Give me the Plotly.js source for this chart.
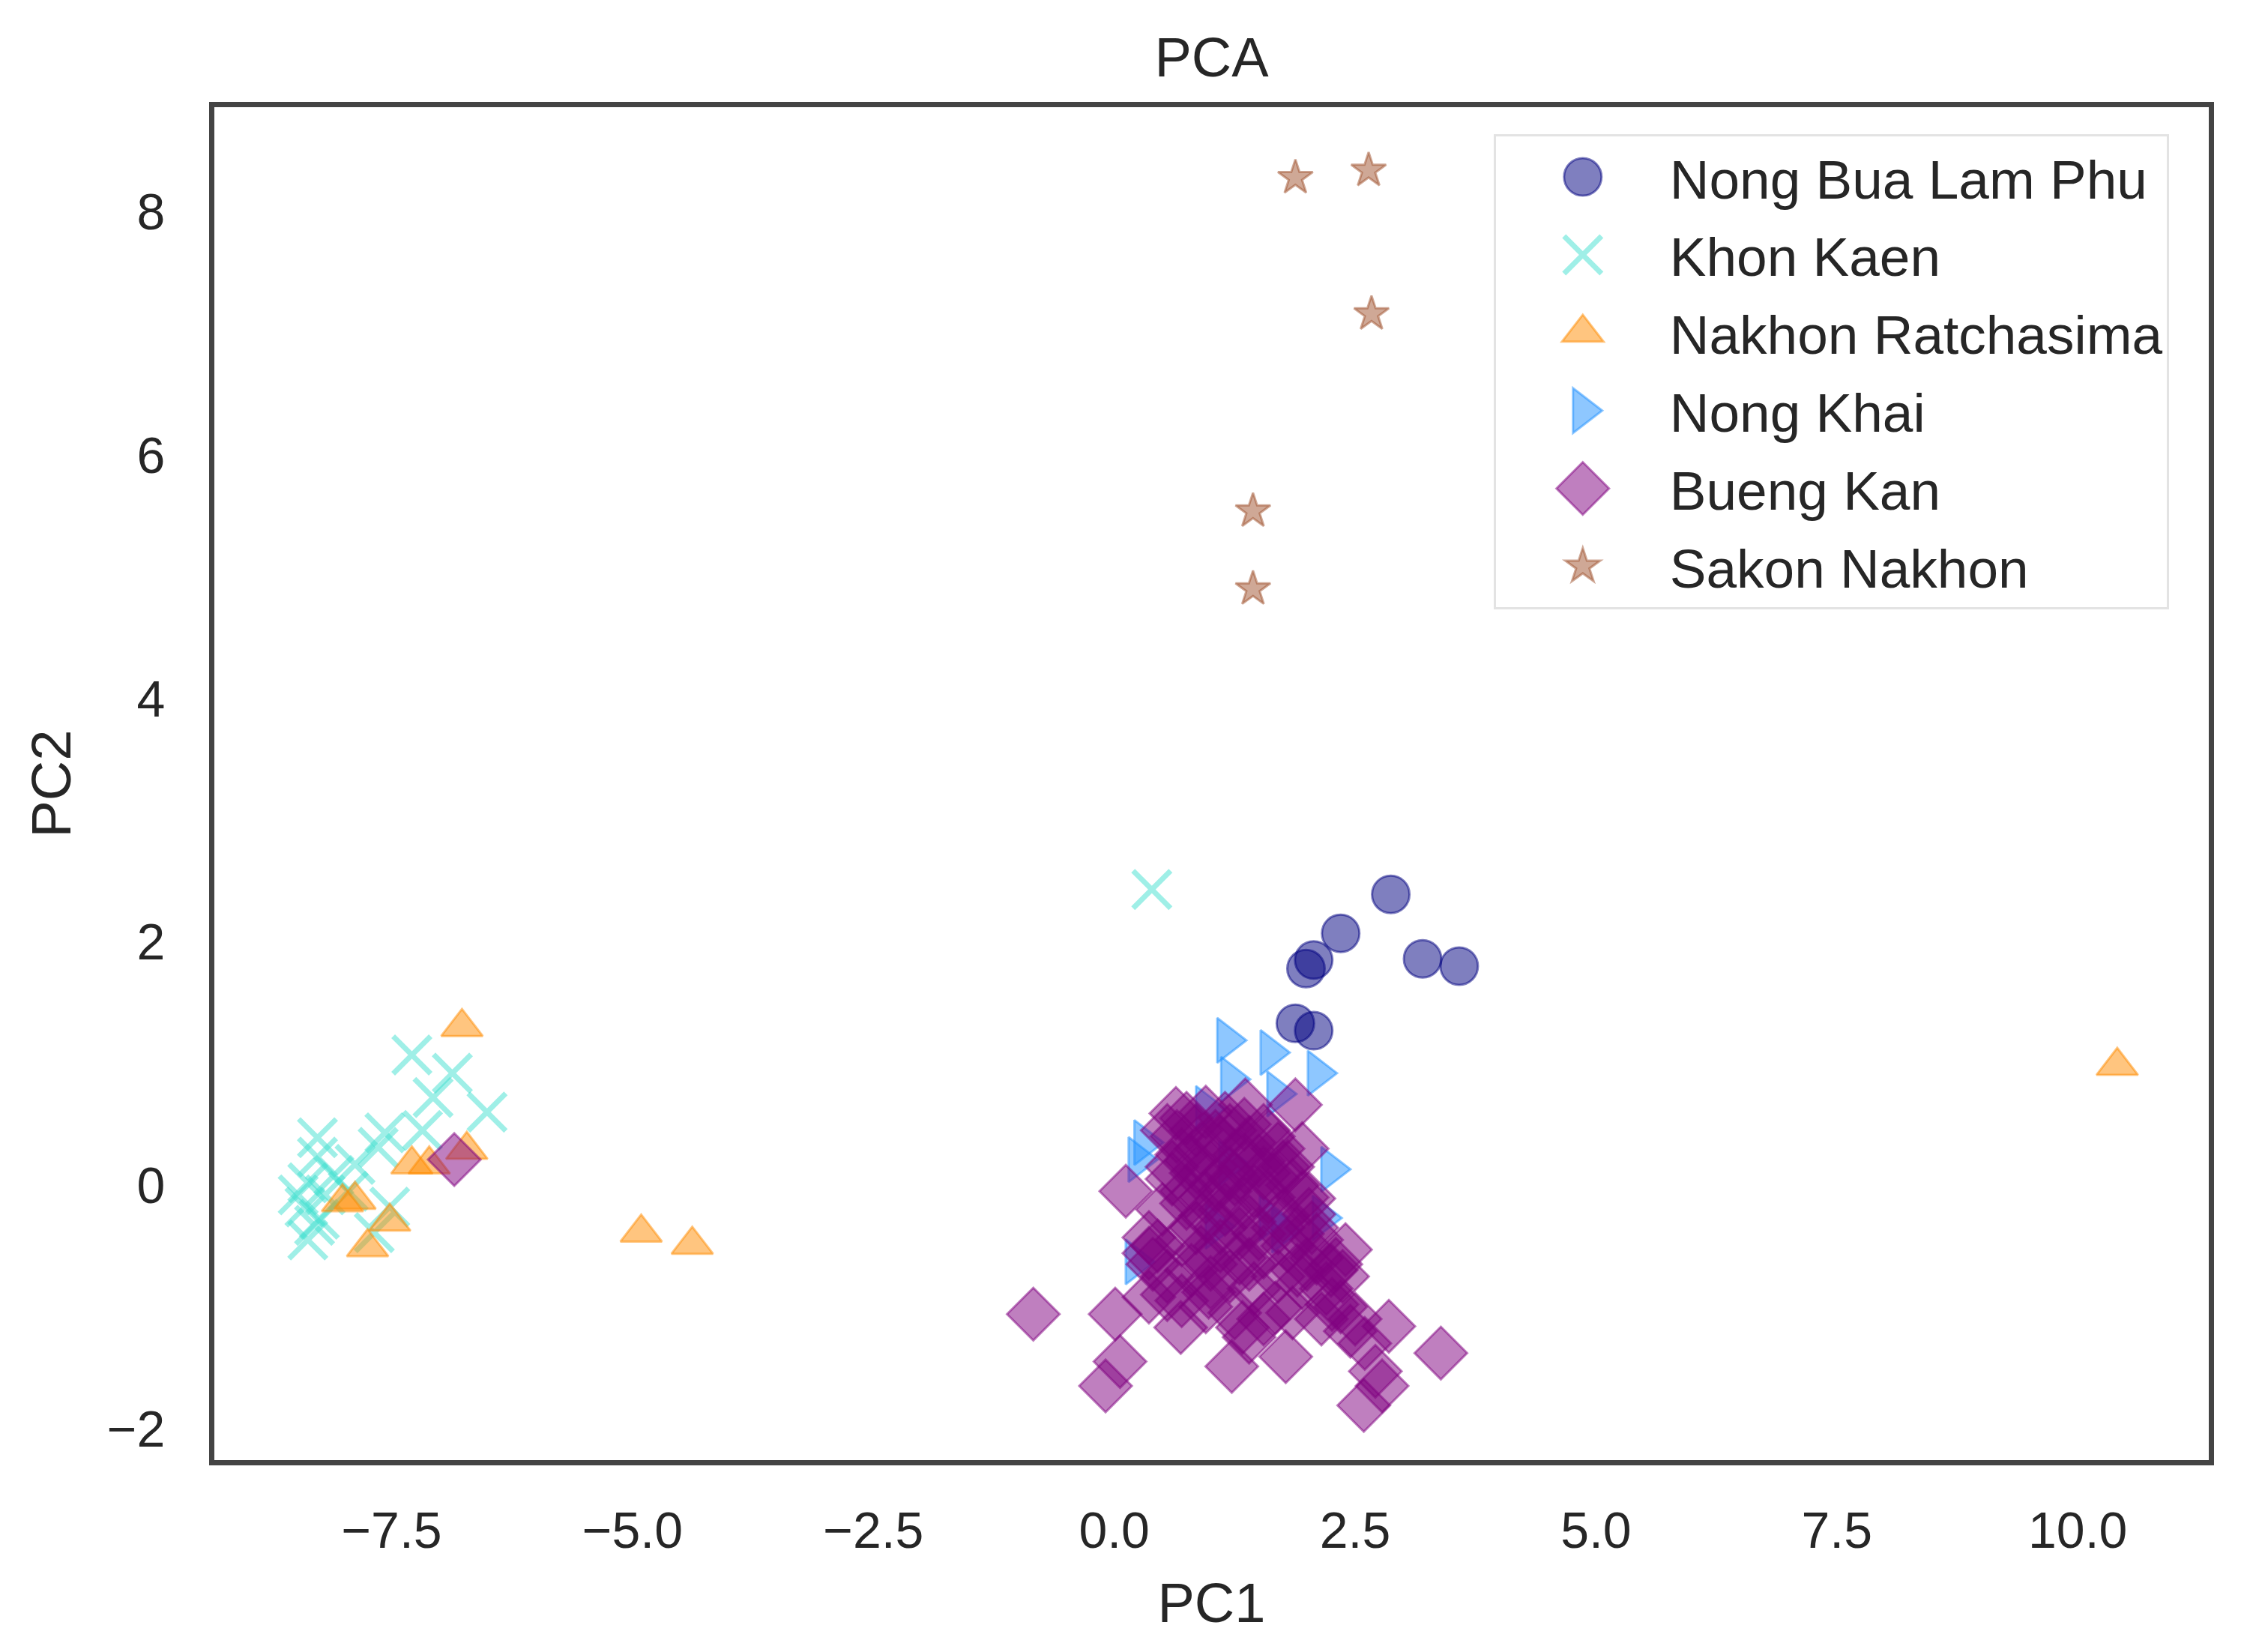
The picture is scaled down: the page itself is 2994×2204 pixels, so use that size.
<!DOCTYPE html>
<html>
<head>
<meta charset="utf-8">
<script src="https://cdn.plot.ly/plotly-3.0.1.min.js"></script>
<style>html,body{margin:0;padding:0;background:#fff;}#chart{width:2994px;height:2204px;}</style>
</head>
<body>
<div id="chart"></div>
<script>
// ---- Data ----
const seriesNames = ["Nong Bua Lam Phu", "Khon Kaen", "Nakhon Ratchasima", "Nong Khai", "Bueng Kan", "Sakon Nakhon"];

const nongBuaLamPhuX = [2.87, 2.35, 3.20, 3.58, 1.99, 2.07, 1.88, 2.07];
const nongBuaLamPhuY = [2.39, 2.07, 1.86, 1.80, 1.78, 1.85, 1.33, 1.27];

const khonKaenX = [0.39, -7.29, -6.87, -7.07, -6.51, -7.18, -7.57, -8.27, -7.64, -8.27, -7.88, -8.37, -8.19, -8.40, -8.25, -8.37, -7.68, -7.52, -8.47, -8.10, -7.95, -8.30];
const khonKaenY = [2.43, 1.07, 0.92, 0.72, 0.60, 0.45, 0.43, 0.39, 0.31, 0.23, 0.17, 0.02, -0.08, -0.18, -0.28, -0.45, -0.39, -0.18, -0.08, 0.08, -0.05, -0.33];

const nakhonRatchasimaX = [-6.77, -7.29, -7.11, -6.72, -7.88, -8.01, -7.52, -7.75, -4.91, -4.38, 10.41];
const nakhonRatchasimaY = [1.30, 0.17, 0.17, 0.29, -0.12, -0.14, -0.30, -0.51, -0.39, -0.49, 0.98];

const nongKhaiX = [1.17, 1.62, 2.11, 1.21, 1.69, 0.95, 0.31, 0.25, 2.25, 1.19, 1.61, 1.74, 0.22, 1.05, 2.16];
const nongKhaiY = [1.19, 1.09, 0.92, 0.87, 0.75, 0.63, 0.35, 0.21, 0.13, 0.18, -0.27, -0.37, -0.63, -0.34, -0.27];

const buengKanX = [-6.85,
  -0.84, 0.01, 0.06, -0.09, 1.22, 1.78, 2.59, 2.85, 3.39, 2.71, 2.78, 0.12, 0.69, 0.36, 1.88, 1.95, 0.64, 1.36,
  2.40, 2.37, 2.26, 1.67, 1.33, 0.98, 0.36, 0.36, 2.02, 2.02,
  0.55, 0.75, 0.95, 1.15, 1.35, 1.55, 0.70, 0.90, 1.10, 1.30, 1.50, 1.70, 0.60, 0.85, 1.05, 1.25, 1.45, 1.65, 1.85,
  0.50, 0.75, 0.95, 1.15, 1.40, 1.75, 2.05, 0.45, 0.70, 0.90, 1.10, 1.30, 1.55, 1.80, 2.10,
  0.55, 0.80, 1.00, 1.20, 1.45, 1.70, 1.95, 2.20, 0.70, 0.95, 1.25, 1.55, 1.85, 2.15, 2.45, 2.60, 1.40, 2.35,
  0.65, 0.85, 1.05, 1.20, 1.40, 1.60, 1.80, 0.60, 0.80, 1.00, 1.20, 1.35, 1.55, 1.75, 1.95, 0.75, 0.95, 1.15, 1.35,
  1.60, 1.90, 2.10, 0.85, 1.10, 1.30, 1.50, 1.70, 2.00, 2.25, 0.40, 0.55, 1.00, 1.40, 1.90, 2.30, 2.50];
const buengKanY = [0.21,
  -1.06, -1.06, -1.45, -1.65, -1.49, -1.41, -1.81, -1.16, -1.38, -1.53, -1.65, -0.05, -1.17, -0.92, 0.66, 0.30, 0.59, 0.66,
  -0.53, -0.75, -0.98, -1.01, -1.17, -0.88, -0.43, -0.56, -0.11, -0.24,
  0.45, 0.55, 0.60, 0.55, 0.50, 0.45, 0.25, 0.30, 0.35, 0.25, 0.20, 0.30, 0.05, 0.10, 0.00, 0.05, -0.05, 0.05, 0.00,
  -0.20, -0.15, -0.25, -0.20, -0.30, -0.25, -0.35, -0.50, -0.45, -0.55, -0.50, -0.60, -0.55, -0.50, -0.60,
  -0.75, -0.70, -0.80, -0.75, -0.85, -0.75, -0.80, -0.85, -0.95, -1.00, -1.05, -1.10, -1.05, -1.10, -1.20, -1.30, -1.25, -1.00,
  0.40, 0.45, 0.40, 0.45, 0.35, 0.40, 0.15, 0.15, 0.20, 0.15, 0.10, 0.15, 0.10, 0.15, -0.10, -0.05, -0.10, -0.05, -0.15,
  -0.10, -0.40, -0.45, -0.35, -0.35, -0.40, -0.40, -0.35, -0.65, -0.70, -0.65, -0.90, -0.65, -0.65, -0.70, -0.65, -1.10];

const sakonNakhonX = [1.88, 2.64, 2.67, 1.44, 1.44];
const sakonNakhonY = [8.28, 8.34, 7.16, 5.54, 4.90];

const xTickStep = 2.5;
const yTickStep = 2;

// ---- Styles ----
const seriesX = [nongBuaLamPhuX, khonKaenX, nakhonRatchasimaX, nongKhaiX, buengKanX, sakonNakhonX];
const seriesY = [nongBuaLamPhuY, khonKaenY, nakhonRatchasimaY, nongKhaiY, buengKanY, sakonNakhonY];
const rgb = ["0,0,128", "64,224,208", "255,140,0", "30,144,255", "128,0,128", "160,82,45"];
const symbols = ["circle", "x-thin", "triangle-up", "triangle-right", "diamond", "star"];
const sizes = [50, 50, 48, 52, 54, 35];
const lineW = [3, 7, 3, 3, 3, 3];

const traces = seriesNames.map((name, i) => ({
  type: "scatter",
  mode: "markers",
  name: name,
  legendgroup: "g" + i,
  x: seriesX[i],
  y: seriesY[i],
  marker: {
    symbol: symbols[i],
    size: sizes[i],
    color: "rgba(" + rgb[i] + ",0.5)",
    line: {color: "rgba(" + rgb[i] + ",0.5)", width: lineW[i]}
  },
  hoverinfo: "x+y+name"
}));

const font = "Liberation Sans, Arial, sans-serif";
const layout = {
  width: 2994,
  height: 2204,
  margin: {l: 286, r: 47, t: 143, b: 256, pad: 0},
  paper_bgcolor: "#ffffff",
  plot_bgcolor: "#ffffff",
  font: {family: font, color: "#262626", size: 68},
  title: {text: "PCA", font: {size: 74, color: "#262626"}, x: 0.5, xref: "paper", y: 0.9655, yref: "container", yanchor: "middle"},
  showlegend: true,
  xaxis: {
    range: [-9.34, 11.36],
    tick0: 0, dtick: xTickStep, tickformat: ".1f",
    showgrid: false, zeroline: false,
    showline: true, linecolor: "#444444", linewidth: 7, mirror: true,
    ticks: "", ticklabelstandoff: 28,
    tickfont: {size: 68, color: "#262626"},
    title: {text: "PC1", font: {size: 74, color: "#262626"}, standoff: 37}
  },
  yaxis: {
    range: [-2.26, 8.86],
    tick0: 0, dtick: yTickStep,
    showgrid: false, zeroline: false,
    showline: true, linecolor: "#444444", linewidth: 7, mirror: true,
    ticks: "", ticklabelstandoff: 45,
    tickfont: {size: 68, color: "#262626"},
    title: {text: "PC2", font: {size: 74, color: "#262626"}, standoff: 26}
  },
  legend: {
    x: 0.980, xanchor: "right", y: 0.980, yanchor: "top",
    bgcolor: "#ffffff", bordercolor: "#e3e3e3", borderwidth: 3,
    font: {size: 73, color: "#262626"},
    itemwidth: 222,
    traceorder: "grouped", tracegroupgap: 6,
    itemclick: false, itemdoubleclick: false
  }
};

Plotly.newPlot("chart", traces, layout, {displayModeBar: false}).then(function (gd) {
  // enlarge the legend symbols to the marker size used in the plot
  const items = gd.querySelectorAll(".legend .traces");
  items.forEach(function (item, i) {
    const k = sizes[i] / 16;
    item.querySelectorAll("path.scatterpts").forEach(function (p) {
      const t = p.getAttribute("transform") || "";
      p.setAttribute("transform", t + " scale(" + k + ")");
      p.style.strokeWidth = (lineW[i] / k) + "px";
    });
  });
});
</script>
</body>
</html>
